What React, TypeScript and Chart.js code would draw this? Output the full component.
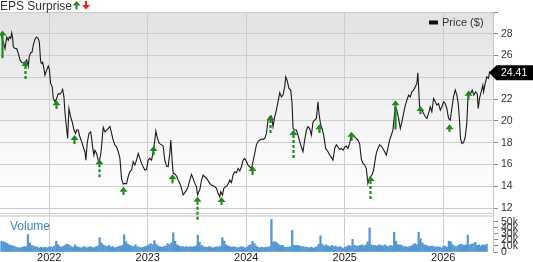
import React, { useEffect, useRef } from 'react';
import { Chart, registerables } from 'chart.js';

Chart.register(...registerables);

const FONT = '"Liberation Sans", Arial, Helvetica, sans-serif';

// Weekly-ish closing prices (decimal year, price in $)
const priceDates = [
  2021.510, 2021.551, 2021.568, 2021.584, 2021.594, 2021.609, 2021.619, 2021.629, 2021.635, 2021.652,
  2021.669, 2021.686, 2021.703, 2021.720, 2021.736, 2021.754, 2021.771, 2021.787, 2021.797, 2021.811,
  2021.825, 2021.838, 2021.855, 2021.872, 2021.888, 2021.899, 2021.913, 2021.923, 2021.933, 2021.946,
  2021.956, 2021.974, 2021.990, 2022.000, 2022.014, 2022.030, 2022.041, 2022.058, 2022.075, 2022.091,
  2022.109, 2022.126, 2022.136, 2022.149, 2022.159, 2022.176, 2022.187, 2022.200, 2022.217, 2022.233,
  2022.251, 2022.268, 2022.278, 2022.294, 2022.311, 2022.329, 2022.345, 2022.362, 2022.372, 2022.385,
  2022.403, 2022.420, 2022.430, 2022.440, 2022.453, 2022.463, 2022.481, 2022.497, 2022.507, 2022.521,
  2022.531, 2022.542, 2022.548, 2022.565, 2022.582, 2022.598, 2022.616, 2022.633, 2022.649, 2022.666,
  2022.684, 2022.700, 2022.717, 2022.734, 2022.751, 2022.768, 2022.785, 2022.801, 2022.818, 2022.836,
  2022.852, 2022.869, 2022.886, 2022.903, 2022.920, 2022.937, 2022.953, 2022.971, 2022.988, 2023.004,
  2023.021, 2023.039, 2023.055, 2023.072, 2023.082, 2023.095, 2023.116, 2023.140, 2023.156, 2023.173,
  2023.191, 2023.207, 2023.224, 2023.234, 2023.247, 2023.258, 2023.275, 2023.292, 2023.308, 2023.326,
  2023.343, 2023.359, 2023.376, 2023.394, 2023.410, 2023.427, 2023.444, 2023.460, 2023.478, 2023.495,
  2023.505, 2023.518, 2023.528, 2023.546, 2023.562, 2023.579, 2023.596, 2023.613, 2023.630, 2023.647,
  2023.663, 2023.681, 2023.698, 2023.714, 2023.731, 2023.741, 2023.759, 2023.772, 2023.792, 2023.805,
  2023.819, 2023.833, 2023.850, 2023.866, 2023.883, 2023.901, 2023.917, 2023.934, 2023.951, 2023.968,
  2023.985, 2024.002, 2024.018, 2024.035, 2024.053, 2024.069, 2024.086, 2024.103, 2024.120, 2024.137,
  2024.154, 2024.170, 2024.188, 2024.205, 2024.221, 2024.238, 2024.256, 2024.272, 2024.289, 2024.306,
  2024.323, 2024.340, 2024.357, 2024.373, 2024.390, 2024.401, 2024.414, 2024.434, 2024.451, 2024.465,
  2024.475, 2024.492, 2024.509, 2024.525, 2024.543, 2024.560, 2024.576, 2024.593, 2024.611, 2024.627,
  2024.644, 2024.661, 2024.678, 2024.695, 2024.712, 2024.728, 2024.738, 2024.753, 2024.773, 2024.786,
  2024.806, 2024.830, 2024.847, 2024.864, 2024.880, 2024.898, 2024.915, 2024.931, 2024.948, 2024.966,
  2024.982, 2024.999, 2025.016, 2025.032, 2025.050, 2025.067, 2025.083, 2025.100, 2025.118, 2025.134,
  2025.151, 2025.168, 2025.185, 2025.202, 2025.219, 2025.235, 2025.245, 2025.260, 2025.276, 2025.293,
  2025.303, 2025.320, 2025.337, 2025.354, 2025.371, 2025.387, 2025.405, 2025.422, 2025.438, 2025.455,
  2025.473, 2025.489, 2025.499, 2025.513, 2025.529, 2025.550, 2025.564, 2025.580, 2025.597, 2025.615,
  2025.631, 2025.648, 2025.665, 2025.682, 2025.699, 2025.716, 2025.732, 2025.742, 2025.753, 2025.760,
  2025.770, 2025.783, 2025.800, 2025.817, 2025.834, 2025.851, 2025.868, 2025.884, 2025.902, 2025.919,
  2025.935, 2025.952, 2025.970, 2025.986, 2026.003, 2026.020, 2026.036, 2026.054, 2026.071, 2026.087,
  2026.104, 2026.122, 2026.138, 2026.152, 2026.165, 2026.175, 2026.189, 2026.206, 2026.223, 2026.239,
  2026.250, 2026.260, 2026.277, 2026.294, 2026.310, 2026.328, 2026.345, 2026.355, 2026.368, 2026.385,
  2026.402, 2026.409, 2026.426, 2026.442, 2026.459, 2026.470, 2026.485,
];

const prices = [
  28.0, 26.65, 27.7, 27.4, 27.7, 27.57, 28.08, 27.57, 26.8, 26.65,
  26.65, 26.2, 25.6, 25.4, 25.3, 25.4, 25.6, 25.0, 25.9, 26.25,
  26.3, 26.95, 27.5, 27.7, 27.57, 27.26, 25.4, 25.27, 25.4, 24.8,
  24.2, 24.66, 25.03, 24.8, 23.44, 23.13, 22.06, 21.76, 22.06, 22.5,
  22.46, 22.67, 22.89, 22.2, 20.84, 19.3, 18.4, 21.14, 20.4, 19.9,
  19.16, 18.85, 19.16, 19.16, 18.54, 18.1, 17.6, 17.17, 16.4, 17.93,
  18.85, 19.0, 18.4, 17.6, 16.86, 17.3, 17.0, 16.4, 16.25, 16.86,
  17.6, 18.85, 19.4, 19.0, 19.16, 19.3, 19.5, 18.85, 18.24, 17.8,
  17.6, 17.17, 16.6, 14.7, 14.2, 14.26, 14.23, 14.87, 15.33, 15.49,
  16.25, 15.94, 16.4, 17.02, 16.56, 16.1, 15.79, 15.49, 15.55, 16.4,
  16.56, 16.4, 17.17, 18.24, 19.06, 18.54, 17.93, 17.8, 17.69, 16.4,
  15.85, 15.79, 17.02, 18.24, 16.4, 15.18, 15.12, 14.94, 14.57, 14.26,
  13.8, 13.19, 13.41, 13.65, 13.96, 14.57, 15.09, 14.72, 14.26, 13.96,
  13.19, 13.5, 13.65, 14.57, 15.03, 14.87, 14.72, 14.51, 14.26, 14.1,
  14.05, 13.96, 13.8, 13.35, 13.04, 13.5, 13.19, 13.8, 13.96, 14.05,
  14.26, 14.57, 14.33, 15.03, 15.33, 15.24, 15.64, 15.4, 15.79, 16.4,
  16.56, 16.25, 15.94, 15.79, 15.64, 16.25, 17.02, 17.8, 18.1, 18.24,
  18.33, 18.3, 18.4, 18.85, 20.07, 20.4, 20.44, 19.46, 20.4, 20.99,
  21.76, 22.58, 22.2, 22.37, 23.13, 24.05, 23.74, 22.98, 22.83, 21.6,
  19.3, 19.16, 19.16, 18.7, 18.1, 17.6, 17.17, 18.24, 19.16, 19.46,
  19.3, 18.7, 19.9, 20.07, 20.22, 21.76, 20.7, 19.77, 19.16, 18.7,
  17.47, 17.17, 16.86, 16.65, 16.4, 17.47, 17.8, 17.6, 17.38, 17.47,
  17.3, 17.6, 17.69, 17.47, 17.93, 18.85, 18.7, 18.54, 18.4, 18.24,
  17.9, 16.5, 16.1, 15.94, 15.64, 14.26, 14.57, 14.87, 15.03, 15.49,
  16.1, 17.02, 17.47, 17.8, 17.69, 17.47, 17.17, 16.86, 17.47, 18.24,
  18.7, 19.16, 20.07, 21.3, 20.99, 20.07, 19.3, 19.9, 20.69, 21.45,
  21.91, 22.37, 22.2, 22.67, 22.83, 23.13, 23.44, 24.42, 22.5, 21.3,
  21.14, 20.99, 20.69, 20.4, 20.22, 20.69, 21.3, 20.84, 22.06, 21.76,
  21.45, 21.6, 20.99, 21.3, 21.76, 21.6, 21.14, 20.22, 20.07, 21.14,
  22.2, 22.83, 22.37, 21.6, 20.07, 18.4, 17.93, 18.0, 18.54, 19.77,
  21.91, 22.67, 22.5, 22.83, 22.37, 22.67, 22.5, 21.14, 22.06, 22.67,
  23.28, 22.67, 23.44, 24.05, 23.9, 24.5, 24.41,
];

const lastPrice = 24.41;

// Weekly volume in thousands, first week starting at volumeStart
const volumeStart = 2021.515;
const volumes = [
  18, 17, 16, 14, 12, 11, 10, 9, 8, 7, 7, 8, 9, 9,
  29, 15, 11, 10, 9, 8, 7, 8, 7, 8, 7, 8, 9, 8, 10,
  18, 12, 9, 8, 10, 12, 13, 11, 9, 8, 12, 9, 8, 7, 8, 9, 7, 8, 9, 8, 7, 9, 10,
  24, 15, 12, 10, 9, 11, 8, 9, 7, 8, 9, 10, 11,
  29, 17, 13, 11, 10, 9, 12, 9, 8, 7, 8, 9, 10, 12, 14, 12,
  19, 13, 10, 9, 8, 9, 10, 14, 12, 15,
  32, 18, 12, 10, 9, 9, 8, 9, 8, 9, 8, 9, 10,
  28, 16, 11, 9, 8, 8, 9, 8, 7, 8, 9, 8, 10,
  24, 18, 12, 10, 9, 8, 9, 8, 7, 8, 9, 8, 7, 8, 11, 12,
  18, 14, 10, 8, 7, 8, 7, 8, 8, 9,
  54, 17, 17, 15, 12, 11, 11, 8, 8, 8, 9,
  36, 11, 11, 11, 10, 9, 9, 8, 8, 7, 8, 7, 7, 9, 13,
  27, 13, 10, 12, 10, 9, 11, 9, 10, 8, 9, 8, 6, 8, 9, 11, 10,
  21, 11, 10, 10, 11, 12, 10, 12, 17,
  40, 12, 11, 11, 10, 12, 11, 10, 12, 10, 9, 11, 10,
  33, 18, 12, 12, 11, 9, 9, 8, 9, 10, 12, 14, 12,
  33, 22, 15, 12, 11, 10, 9, 10, 9, 8, 9, 8, 7, 9, 10, 8,
  18, 17, 12, 10, 9, 11, 13, 12, 11, 12,
  28, 12, 13, 14, 16, 11, 12, 10, 12, 11, 13,
];

// EPS surprise arrows: date, arrow tip price, stem base price, dashed stem
const epsDates = [
  2021.517, 2021.754, 2022.065, 2022.251, 2022.504, 2022.751, 2023.055, 2023.247, 2023.501, 2023.748,
  2024.059, 2024.245, 2024.475, 2024.738, 2025.067, 2025.253, 2025.506, 2025.760, 2026.057, 2026.250,
];
const epsTop = [
  28.3, 25.5, 21.9, 18.7, 16.47, 13.95, 17.69, 15.1, 13.04, 13.0,
  15.85, 20.53, 19.16, 19.7, 19.0, 14.94, 21.9, 21.36, 19.7, 22.76,
];
const epsBase = [
  25.76, 23.74, 21.1, 17.87, 14.7, 13.2, 16.86, 14.27, 10.9, 12.28,
  15.03, 18.7, 16.56, 18.9, 18.17, 12.73, 19.22, 20.62, 19.0, 21.97,
];
const epsDashed = [
  false, true, false, false, true, false, false, false, true, false,
  false, true, true, false, false, true, false, false, false, false,
];

const yearTicks = [2022, 2023, 2024, 2025, 2026];
const priceTicks = [12, 14, 16, 18, 20, 22, 24, 26, 28, 30];
const volumeTicks = [0, 10, 20, 30, 40, 50];

const GREEN = '#1b8a1b';
const RED = '#e8231b';
const GRID = '#cdcdcd';

const overlayPlugin = {
  id: 'overlay',
  beforeDraw(chart: any) {
    const { ctx, chartArea: ca } = chart;
    const yP = chart.scales.yPrice;
    ctx.save();
    ctx.fillStyle = '#ffffff';
    ctx.fillRect(0, 0, chart.width, chart.height);
    const g = ctx.createLinearGradient(0, yP.top, 0, yP.bottom);
    g.addColorStop(0, '#e2e2e2');
    g.addColorStop(0.7, '#f9f9f9');
    g.addColorStop(1, '#ffffff');
    ctx.fillStyle = g;
    ctx.fillRect(ca.left, yP.top, ca.right - ca.left, yP.bottom - yP.top);
    ctx.restore();
  },
  beforeDatasetsDraw(chart: any) {
    const { ctx, chartArea: ca } = chart;
    const yP = chart.scales.yPrice;
    const b = Math.round(yP.bottom);
    ctx.save();
    ctx.fillStyle = GRID;
    ctx.fillRect(ca.left, b - 1, ca.right - ca.left, 1);
    ctx.fillStyle = '#e0e0e0';
    ctx.fillRect(ca.left, b + 1, ca.right - ca.left, 2);
    ctx.restore();
  },
  afterDatasetsDraw(chart: any) {
    const { ctx } = chart;
    const xs = chart.scales.x;
    const yP = chart.scales.yPrice;
    ctx.save();
    for (let i = 0; i < epsDates.length; i++) {
      const x = Math.round(xs.getPixelForValue(epsDates[i])) + 0.5;
      const yt = yP.getPixelForValue(epsTop[i]);
      const yb = yP.getPixelForValue(epsBase[i]);
      ctx.fillStyle = GREEN;
      ctx.beginPath();
      ctx.moveTo(x, yt);
      ctx.lineTo(x + 4, yt + 5);
      ctx.lineTo(x - 4, yt + 5);
      ctx.closePath();
      ctx.fill();
      ctx.strokeStyle = GREEN;
      ctx.lineWidth = 2.2;
      ctx.setLineDash(epsDashed[i] ? [3, 2] : []);
      ctx.beginPath();
      ctx.moveTo(x, yt + 5);
      ctx.lineTo(x, yb);
      ctx.stroke();
    }
    ctx.restore();
  },
  afterDraw(chart: any) {
    const { ctx, chartArea: ca } = chart;
    const yP = chart.scales.yPrice;
    const yV = chart.scales.yVol;
    ctx.save();
    // Title
    ctx.font = `12px ${FONT}`;
    ctx.fillStyle = '#333333';
    ctx.textBaseline = 'alphabetic';
    ctx.textAlign = 'left';
    ctx.fillText('EPS Surprise', 0, 10);
    const w = ctx.measureText('EPS Surprise').width;
    // up arrow icon
    let cx = w + 4.5;
    ctx.fillStyle = GREEN;
    ctx.beginPath();
    ctx.moveTo(cx, 1);
    ctx.lineTo(cx + 4, 5.5);
    ctx.lineTo(cx - 4, 5.5);
    ctx.closePath();
    ctx.fill();
    ctx.fillRect(cx - 1, 5.5, 2, 4);
    // down arrow icon
    cx = w + 14;
    ctx.fillStyle = RED;
    ctx.fillRect(cx - 1, 1, 2, 4);
    ctx.beginPath();
    ctx.moveTo(cx, 9.5);
    ctx.lineTo(cx + 4, 5);
    ctx.lineTo(cx - 4, 5);
    ctx.closePath();
    ctx.fill();

    // Legend
    ctx.fillStyle = '#111111';
    ctx.fillRect(429, 20.5, 9, 4);
    ctx.font = `11px ${FONT}`;
    ctx.fillStyle = '#333333';
    ctx.textBaseline = 'middle';
    ctx.fillText('Price ($)', 442, 23);

    // Volume label
    ctx.font = `12px ${FONT}`;
    ctx.fillStyle = '#3d85c6';
    ctx.fillText('Volume', 10, yV.top + 12.5);

    // Last price tag
    const yc = yP.getPixelForValue(lastPrice);
    const right = chart.width;
    ctx.fillStyle = '#000000';
    ctx.beginPath();
    ctx.moveTo(ca.right - 4, yc);
    ctx.lineTo(ca.right + 3.5, yc - 7.5);
    ctx.lineTo(right, yc - 7.5);
    ctx.lineTo(right, yc + 7.5);
    ctx.lineTo(ca.right + 3.5, yc + 7.5);
    ctx.closePath();
    ctx.fill();
    ctx.fillStyle = '#ffffff';
    ctx.font = `10.5px ${FONT}`;
    ctx.textBaseline = 'middle';
    ctx.fillText(lastPrice.toFixed(2), ca.right + 8, yc + 0.5);
    ctx.restore();
  },
};

export default function App() {
  const canvasRef = useRef<HTMLCanvasElement | null>(null);

  useEffect(() => {
    document.body.style.margin = '0';
    const canvas = canvasRef.current;
    if (!canvas) return;
    Chart.defaults.font.family = FONT;

    const priceData = priceDates.map((d, i) => ({ x: d, y: prices[i] }));
    const volumeData = volumes.map((v, i) => ({ x: volumeStart + (i * 7) / 365.25, y: v }));

    const chart = new Chart(canvas, {
      type: 'line',
      data: {
        datasets: [
          {
            type: 'line',
            label: 'Price ($)',
            data: priceData,
            xAxisID: 'x',
            yAxisID: 'yPrice',
            borderColor: '#1a1a1a',
            borderWidth: 1.1,
            pointRadius: 0,
            tension: 0,
            order: 1,
          } as any,
          {
            type: 'bar',
            label: 'Volume',
            data: volumeData,
            xAxisID: 'x',
            yAxisID: 'yVol',
            backgroundColor: '#5597d3',
            barThickness: 1.6,
            order: 2,
          } as any,
        ],
      },
      plugins: [overlayPlugin],
      options: {
        responsive: false,
        animation: false,
        devicePixelRatio: 1,
        layout: { padding: { top: 12, left: 0, right: 0, bottom: 0 } },
        plugins: {
          legend: { display: false },
          tooltip: { enabled: false },
        },
        scales: {
          x: {
            type: 'linear',
            position: 'bottom',
            offset: false,
            min: 2021.5,
            max: 2026.505,
            afterBuildTicks: (s: any) => {
              s.ticks = yearTicks.map((v) => ({ value: v }));
            },
            afterFit: (s: any) => {
              s.height = 10;
              s.paddingLeft = 0;
              s.paddingRight = 0;
            },
            ticks: {
              autoSkip: false,
              maxRotation: 0,
              padding: 0,
              color: '#222222',
              font: { size: 11, lineHeight: 1 },
              callback: (v: any) => String(v),
            },
            grid: { color: GRID, drawTicks: false, lineWidth: 1, offset: false },
            border: { display: false },
          },
          yPrice: {
            type: 'linear',
            position: 'right',
            stack: 'right',
            stackWeight: 202,
            min: 11.45,
            max: 30,
            afterBuildTicks: (s: any) => {
              s.ticks = priceTicks.map((v) => ({ value: v }));
            },
            afterFit: (s: any) => {
              s.width = 40;
            },
            ticks: {
              autoSkip: false,
              padding: 3,
              color: '#333333',
              font: { size: 10.5 },
              callback: (v: any) => (v === 30 ? '' : String(v)),
            },
            grid: { color: GRID, tickLength: 5, tickColor: '#888888' },
            border: { display: true, color: '#c4c4c4' },
          },
          yVol: {
            type: 'linear',
            position: 'right',
            stack: 'right',
            stackWeight: 38,
            min: 0,
            max: 63.3,
            afterBuildTicks: (s: any) => {
              s.ticks = volumeTicks.map((v) => ({ value: v }));
            },
            afterFit: (s: any) => {
              s.width = 40;
            },
            ticks: {
              autoSkip: false,
              padding: 3,
              color: '#333333',
              font: { size: 10.5 },
              callback: (v: any) => (v === 0 ? '0' : `${v}k`),
            },
            grid: { drawOnChartArea: false, tickLength: 5, tickColor: '#888888' },
            border: { display: true, color: '#c4c4c4' },
          },
        },
      } as any,
    });

    return () => chart.destroy();
  }, []);

  return (
    <div style={{ width: 533, height: 262 }}>
      <canvas ref={canvasRef} width={533} height={262} style={{ display: 'block' }} />
    </div>
  );
}
